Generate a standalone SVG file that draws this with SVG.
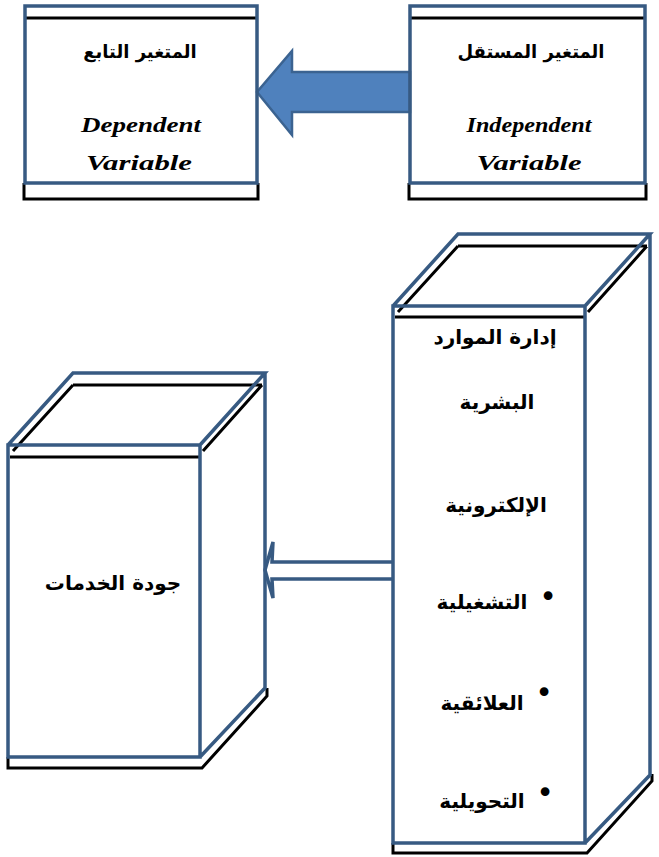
<svg xmlns="http://www.w3.org/2000/svg" width="659" height="857" viewBox="0 0 659 857">
<style>
.b{fill:none;stroke:#375a82;stroke-width:3.5;stroke-linejoin:miter}
.k{fill:none;stroke:#000;stroke-width:3}
.ar{font-family:"DejaVu Sans",sans-serif;font-weight:bold;font-size:18px;fill:#000;text-anchor:middle}
.ar2{font-family:"DejaVu Sans",sans-serif;font-weight:bold;font-size:20px;fill:#000;text-anchor:middle}
.bu{font-family:"DejaVu Sans",sans-serif;font-size:30px;fill:#000;text-anchor:middle}
.en{font-family:"Liberation Serif",serif;font-weight:bold;font-style:italic;font-size:20px;fill:#000;text-anchor:middle}
</style>
<rect width="659" height="857" fill="#fff"/>
<g id="connectors">
<path d="M410,72 H292 V51 L257,92 L292,135 V112 H410 Z" fill="#4f81bd" stroke="#3b6391" stroke-width="2.5"/>
<path d="M392,562 H272 L273,542 L265,570 L273,598 L272,579 H392" fill="#fff" stroke="#375a82" stroke-width="3.5"/>
</g>
<g id="dependent">
<path class="k" d="M25,18 H257 M24,183 V199 H258 V183"/>
<rect class="b" x="25" y="6" width="232" height="177"/>
<text class="ar" x="140" y="58">المتغير التابع</text>
<text class="en" x="141" y="132" textLength="120" lengthAdjust="spacingAndGlyphs">Dependent</text>
<text class="en" x="139" y="170" textLength="106" lengthAdjust="spacingAndGlyphs">Variable</text>
</g>
<g id="independent">
<path class="k" d="M410,18 H645 M409,183 V199 H646 V183"/>
<rect class="b" x="410" y="6" width="235" height="177"/>
<text class="ar" x="531" y="58">المتغير المستقل</text>
<text class="en" x="529" y="132" textLength="125" lengthAdjust="spacingAndGlyphs">Independent</text>
<text class="en" x="529" y="170" textLength="105" lengthAdjust="spacingAndGlyphs">Variable</text>
</g>
<g id="hrm">
<path class="k" d="M458,246 H647 M458,246 L398,312 M647,246 L588,312 M395,317 H585 M393,843 V853 H587 L652,781 V774"/>
<path class="b" d="M393,306 H585 V843 H393 Z M393,306 L458,234 H650 L585,306 M650,234 V775 L585,843"/>
<text class="ar2" x="495" y="344">إدارة الموارد</text>
<text class="ar2" x="497" y="409">البشرية</text>
<text class="ar2" x="496" y="512">الإلكترونية</text>
<text class="bu" x="548" y="607">•</text>
<text class="ar2" x="482" y="609">التشغيلية</text>
<text class="bu" x="544" y="703">•</text>
<text class="ar2" x="482" y="710">العلائقية</text>
<text class="bu" x="545" y="803">•</text>
<text class="ar2" x="482" y="808">التحويلية</text>
</g>
<g id="quality">
<path class="k" d="M73,385 H262 M73,385 L13,451 M262,385 L203,451 M10,457 H200 M8,757 V768 H202 L267,696 V688"/>
<path class="b" d="M8,445 H200 V757 H8 Z M8,445 L73,373 H265 L200,445 M265,373 V688 L200,757"/>
<text class="ar2" x="113" y="590" font-size="22">جودة الخدمات</text>
</g>
</svg>
